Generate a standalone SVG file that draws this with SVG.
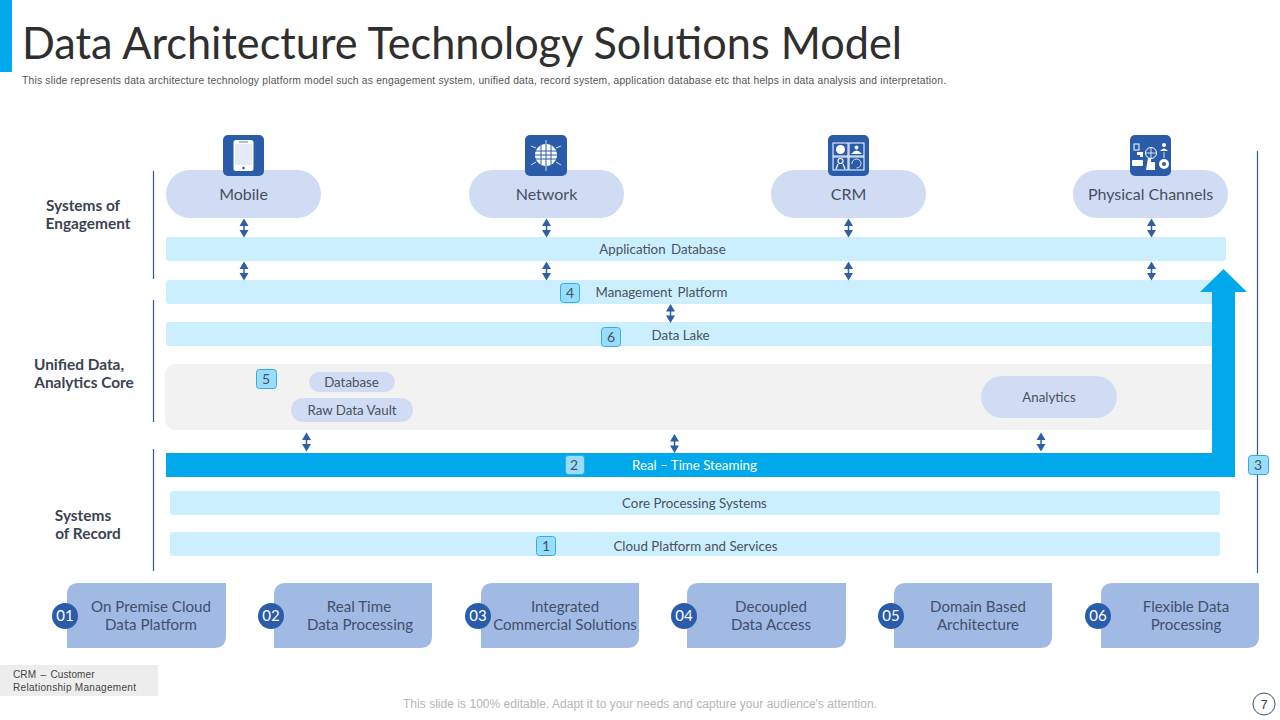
<svg xmlns="http://www.w3.org/2000/svg" width="1280" height="720" viewBox="0 0 1280 720">
<style>
text{font-family:"Lato","Noto Sans",sans-serif;fill:#4a5160;text-anchor:middle}
.s{font-family:"Liberation Sans",Arial,sans-serif}
.pill{fill:#d0dcf3}
.bar{fill:#ccefff}
.lbl{font-size:13.300px}
.head{font-size:15.400px;font-weight:700;fill:#3b4350}
.nd{font-size:16px;fill:#474f5e}
.st{font-size:15.100px;fill:#42506a}
.step{fill:#a0bae4}
.dot{fill:#2a5caa}
.dt{font-size:15px;fill:#fff}
.tag{fill:#96defb;stroke:#3fa9d8;stroke-width:1}
.tt{font-size:14px;fill:#4a5160}
.ico{fill:#2a5caa}
.w{fill:#fff}
.o{fill:none;stroke:#fff}
.rule{stroke:#2f5a94;stroke-width:1.200;fill:none}
</style>
<defs>
<g id="da"><path d="M0 -9.500L4.500 -2H-4.500ZM0 9.500L4.500 2H-4.500Z" fill="#2f5fa5"/><path d="M0 -3V3" stroke="#2f5fa5" stroke-width="1.500"/></g>
</defs>
<rect x="0" y="0" width="12" height="72" fill="#00a8ec"/>
<text x="22" y="59" font-size="44.500" style="text-anchor:start;fill:#2f2f2f" textLength="880" lengthAdjust="spacingAndGlyphs">Data Architecture Technology Solutions Model</text>
<text class="s" x="22" y="84" font-size="10.300" style="text-anchor:start;fill:#555" textLength="924" lengthAdjust="spacing">This slide represents data architecture technology platform model such as engagement system, unified data, record system, application database etc that helps in data analysis and interpretation.</text>

<g id="rules">
<path class="rule" d="M153.500 171V279M153.500 300V422M153.500 449V571M1257.500 151V573"/>
</g>

<g id="side-labels">
<g id="label-engagement"><text class="head" x="83" y="211">Systems of</text><text class="head" x="88" y="229">Engagement</text></g>
<g id="label-unified"><text class="head" x="79" y="370">Unified Data,</text><text class="head" x="84" y="388">Analytics Core</text></g>
<g id="label-record"><text class="head" x="83" y="521">Systems</text><text class="head" x="88" y="539">of Record</text></g>
</g>

<g id="panel"><rect x="165" y="364" width="1060" height="66" rx="11" fill="#f2f2f2"/></g>

<g id="bar-app"><rect class="bar" x="166" y="237" width="1060" height="24" rx="3"/><text class="lbl" x="662.500" y="254" word-spacing="2">Application Database</text></g>
<g id="bar-mgmt"><rect class="bar" x="166" y="280" width="1060" height="24" rx="3"/><text class="lbl" x="661.500" y="297" word-spacing="2">Management Platform</text></g>
<g id="bar-lake"><rect class="bar" x="166" y="322" width="1060" height="24" rx="3"/><text class="lbl" x="680.500" y="340">Data Lake</text></g>
<g id="bar-core"><rect class="bar" x="170" y="491" width="1050" height="24" rx="3"/><text class="lbl" x="694.500" y="508">Core Processing Systems</text></g>
<g id="bar-cloud"><rect class="bar" x="170" y="532" width="1050" height="24" rx="3"/><text class="lbl" x="695.500" y="551">Cloud Platform and Services</text></g>

<g id="stream">
<path d="M166 453H1212V292H1200L1223.500 269L1247 292H1235V477H166Z" fill="#00a8ec"/>
<text class="lbl" x="694.500" y="470" style="fill:#fff">Real – Time Steaming</text>
</g>

<g id="connectors">
<use href="#da" x="244" y="228"/><use href="#da" x="546.500" y="228"/><use href="#da" x="848.500" y="228"/><use href="#da" x="1151.500" y="228"/>
<use href="#da" x="244" y="271"/><use href="#da" x="546.500" y="271"/><use href="#da" x="848.500" y="271"/><use href="#da" x="1151.500" y="271"/>
<use href="#da" x="670.500" y="313.500"/>
<use href="#da" x="306.500" y="442"/><use href="#da" x="674.500" y="443.500"/><use href="#da" x="1041" y="442"/>
</g>

<g id="mobile"><rect class="pill" x="166" y="170" width="155" height="48" rx="24"/>
<rect class="ico" x="223" y="135" width="41" height="41" rx="5"/>
<rect class="w" x="233.500" y="140" width="20" height="31" rx="2.500"/><rect class="ico" x="235" y="144" width="17" height="21" opacity=".12"/><circle class="ico" cx="243.500" cy="168" r="1.300"/><path d="M239 142H248" stroke="#2a5caa" stroke-width=".8"/>
<text class="nd" x="243.500" y="200">Mobile</text></g>

<g id="network"><rect class="pill" x="469" y="170" width="155" height="48" rx="24"/>
<rect class="ico" x="525" y="135" width="42" height="41" rx="5"/>
<circle class="w" cx="546" cy="155" r="11"/>
<path d="M535 151H557M535 155H557M535 159H557M541 145V165M546 144V166M551 145V165" stroke="#2a5caa" stroke-width="1" fill="none"/>
<path class="o" d="M546 144V140M546 166V171M536 148L531 146M556 148L561 146M536 162L531 165M556 162L561 165" stroke-width="0.800"/>
<text class="nd" x="546.500" y="200">Network</text></g>

<g id="crm"><rect class="pill" x="771" y="170" width="155" height="48" rx="24"/>
<rect class="ico" x="828" y="135" width="41" height="41" rx="5"/>
<rect class="o" x="833" y="143" width="15" height="13" stroke-width="1"/><rect class="o" x="849" y="143" width="15" height="13" stroke-width="1"/><rect class="o" x="833" y="157" width="15" height="13" stroke-width="1"/><rect class="o" x="849" y="157" width="15" height="13" stroke-width="1"/>
<circle class="w" cx="840.500" cy="149.500" r="4.500"/>
<circle class="w" cx="856.500" cy="147.500" r="2"/><path class="w" d="M851 154Q856.500 147 862 154Z"/>
<circle class="o" cx="840.500" cy="161" r="2.500" stroke-width="1.200"/><path class="o" d="M838 164L836 169M843 164L845 169" stroke-width="1.200"/>
<path class="o" d="M852 164A4.500 4.500 0 1 1 856.500 168" stroke-width="0.800"/>
<text class="nd" x="848.500" y="200">CRM</text></g>

<g id="channels"><rect class="pill" x="1073" y="170" width="155" height="48" rx="24"/>
<rect class="ico" x="1130" y="135" width="41" height="41" rx="5"/>
<rect class="o" x="1134" y="144" width="5" height="6" stroke-width="1"/><path class="w" d="M1137 152H1143V157H1140V155H1137Z"/>
<circle class="o" cx="1151" cy="153" r="5.500" stroke-width="1"/><path class="o" d="M1145.500 153H1156.500M1151 147.500V158.500" stroke-width="0.800"/>
<circle class="w" cx="1164" cy="145" r="2"/><path class="w" d="M1160 151Q1164 146 1168 151Z"/><path class="o" d="M1164 152V158" stroke-width="0.800"/>
<rect class="w" x="1132" y="160" width="11" height="6" rx="1"/>
<path class="w" d="M1148 158H1151V162H1155V170H1146Z"/>
<circle class="w" cx="1164" cy="164" r="5"/><circle class="ico" cx="1164" cy="164" r="2"/>
<text class="nd" x="1150.500" y="200">Physical Channels</text></g>

<g id="database"><rect class="pill" x="309" y="372" width="86" height="20" rx="10"/><text class="lbl" x="351.500" y="387">Database</text></g>
<g id="vault"><rect class="pill" x="291" y="398" width="122" height="24" rx="12"/><text class="lbl" x="352" y="415">Raw Data Vault</text></g>
<g id="analytics"><rect class="pill" x="981" y="376" width="136" height="42" rx="21"/><text class="lbl" x="1049" y="402">Analytics</text></g>

<g id="tag-1"><rect class="tag" x="536.500" y="536.500" width="19" height="19" rx="3"/><text class="tt" x="546" y="551">1</text></g>
<g id="tag-2"><rect class="tag" x="565.500" y="455.500" width="19" height="19" rx="3"/><text class="tt" x="574" y="470">2</text></g>
<g id="tag-3"><rect class="tag" x="1248.500" y="455.500" width="20" height="19" rx="3"/><text class="tt" x="1258" y="470">3</text></g>
<g id="tag-4"><rect class="tag" x="560.500" y="283.500" width="19" height="19" rx="3"/><text class="tt" x="570" y="298">4</text></g>
<g id="tag-5"><rect class="tag" x="256.500" y="369.500" width="20" height="19" rx="3"/><text class="tt" x="266" y="384">5</text></g>
<g id="tag-6"><rect class="tag" x="601.500" y="327.500" width="19" height="19" rx="3"/><text class="tt" x="611" y="342">6</text></g>

<g id="step-1"><path class="step" d="M67 648V595Q67 583 79 583H226V636Q226 648 214 648Z"/><circle class="dot" cx="65" cy="616" r="13"/><text class="dt" x="65" y="621">01</text><text class="st" x="151" y="612">On Premise Cloud</text><text class="st" x="151" y="630">Data Platform</text></g>
<g id="step-2"><path class="step" d="M274 648V595Q274 583 286 583H432V636Q432 648 420 648Z"/><circle class="dot" cx="271" cy="616" r="13"/><text class="dt" x="271" y="621">02</text><text class="st" x="359" y="612">Real Time</text><text class="st" x="360" y="630">Data Processing</text></g>
<g id="step-3"><path class="step" d="M481 648V595Q481 583 493 583H639V636Q639 648 627 648Z"/><circle class="dot" cx="478" cy="616" r="13"/><text class="dt" x="478" y="621">03</text><text class="st" x="565" y="612">Integrated</text><text class="st" x="565" y="630">Commercial Solutions</text></g>
<g id="step-4"><path class="step" d="M687 648V595Q687 583 699 583H846V636Q846 648 834 648Z"/><circle class="dot" cx="684" cy="616" r="13"/><text class="dt" x="684" y="621">04</text><text class="st" x="771" y="612">Decoupled</text><text class="st" x="771" y="630">Data Access</text></g>
<g id="step-5"><path class="step" d="M894 648V595Q894 583 906 583H1052V636Q1052 648 1040 648Z"/><circle class="dot" cx="891" cy="616" r="13"/><text class="dt" x="891" y="621">05</text><text class="st" x="978" y="612">Domain Based</text><text class="st" x="978" y="630">Architecture</text></g>
<g id="step-6"><path class="step" d="M1101 648V595Q1101 583 1113 583H1259V636Q1259 648 1247 648Z"/><circle class="dot" cx="1098" cy="616" r="13"/><text class="dt" x="1098" y="621">06</text><text class="st" x="1186" y="612">Flexible Data</text><text class="st" x="1186" y="630">Processing</text></g>

<g id="note"><rect x="0" y="665" width="158" height="31" fill="#ededed"/>
<text class="s" x="13" y="678" font-size="10" style="text-anchor:start;fill:#444" word-spacing="1.500" letter-spacing=".1">CRM – Customer</text>
<text class="s" x="13" y="691" font-size="10" style="text-anchor:start;fill:#444" textLength="123" lengthAdjust="spacing">Relationship Management</text></g>
<text class="s" x="640" y="708" font-size="12" style="fill:#b5b5b5" textLength="474" lengthAdjust="spacing">This slide is 100% editable. Adapt it to your needs and capture your audience's attention.</text>
<g id="page"><circle cx="1264" cy="704" r="11" fill="#fff" stroke="#3d5a70" stroke-width="1"/><text class="s" x="1264" y="709" font-size="13" style="fill:#444">7</text></g>
</svg>
